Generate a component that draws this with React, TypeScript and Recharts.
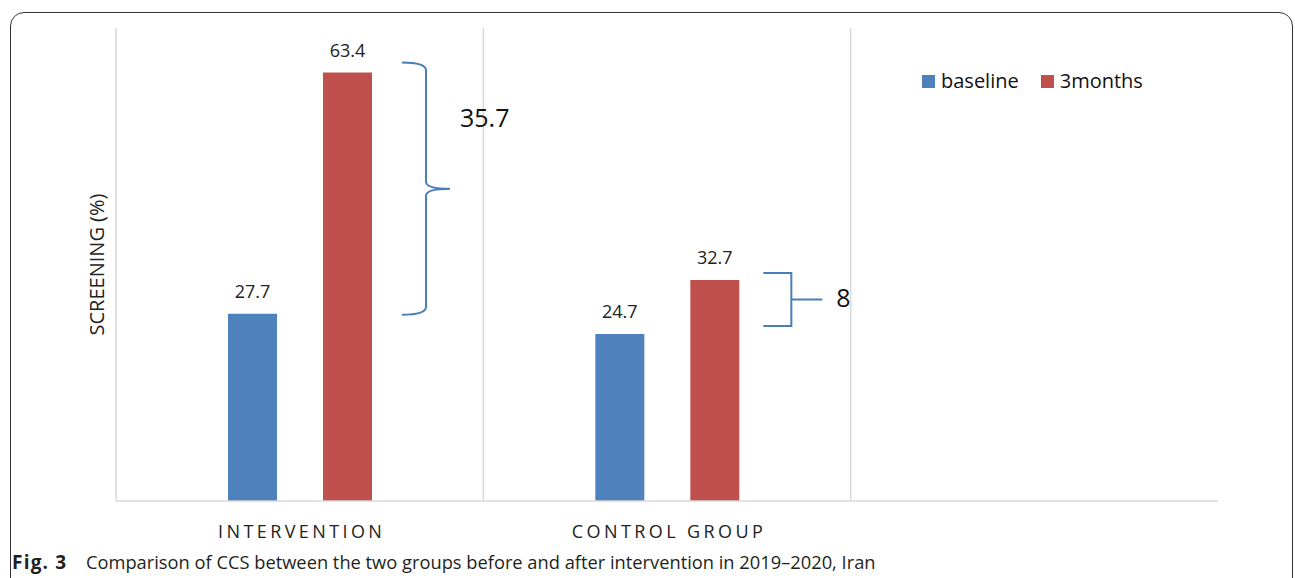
import React from 'react';
import { BarChart, Bar, XAxis, YAxis, CartesianGrid, LabelList } from 'recharts';

const categories = ['INTERVENTION', 'CONTROL GROUP', ''];
const baselineValues: (number | null)[] = [27.7, 24.7, null];
const threeMonthValues: (number | null)[] = [63.4, 32.7, null];
const differenceLabels = ['35.7', '8'];
const seriesNames = ['baseline', '3months'];
const seriesColors = ['#4f81bd', '#c0504d'];
const yAxisTitle = 'SCREENING (%)';
const captionBold = 'Fig. 3';
const captionText = 'Comparison of CCS between the two groups before and after intervention in 2019–2020, Iran';

const data = categories.map((name, i) => ({
  name,
  baseline: baselineValues[i],
  months3: threeMonthValues[i],
}));

const FONT = '"Open Sans", "Noto Sans", sans-serif';
const GRID = '#d9d9d9';
const BRACE = '#4a7ebb';

const renderTick = (props: any) => {
  const { x, y, payload } = props;
  return (
    <text
      x={x + 2}
      y={y + 29}
      textAnchor="middle"
      fontFamily={FONT}
      fontSize={18}
      letterSpacing={3.4}
      fill="#222"
    >
      {payload.value}
    </text>
  );
};

const renderValueLabel = (props: any) => {
  const { x, y, width, value } = props;
  if (value == null) return null;
  return (
    <text
      x={Number(x) + Number(width) / 2}
      y={Number(y) - 16}
      textAnchor="middle"
      fontFamily={FONT}
      fontSize={18}
      fill="#222"
    >
      {value}
    </text>
  );
};

const renderBrace = (props: any) => {
  const { x, y, width, height, index, value } = props;
  if (value == null) return null;
  const base = baselineValues[index];
  if (base == null) return null;
  const bx = Number(x);
  const by = Number(y);
  const bw = Number(width);
  const bh = Number(height);
  const bottomPx = by + bh;
  const basePx = bottomPx - (bh * base) / Number(value);
  const right = bx + bw;
  if (index === 0) {
    const sx = right + 30;
    const vx = sx + 24;
    const tx = sx + 48;
    const top = by - 10;
    const bot = basePx + 1;
    const mid = (top + bot) / 2;
    const d = `M${sx},${top} Q${vx},${top} ${vx},${top + 8} L${vx},${mid - 7} Q${vx},${mid} ${tx},${mid} Q${vx},${mid} ${vx},${mid + 7} L${vx},${bot - 8} Q${vx},${bot} ${sx},${bot}`;
    return (
      <g>
        <path d={d} fill="none" stroke={BRACE} strokeWidth={2} />
        <text x={tx + 10} y={top + 64} fontFamily={FONT} fontSize={25} fill="#111">
          {differenceLabels[index]}
        </text>
      </g>
    );
  }
  const sx = right + 24;
  const vx = sx + 28;
  const tx = sx + 59;
  const top = by - 7;
  const bot = basePx - 8;
  const mid = (top + bot) / 2;
  const d = `M${sx},${top} L${vx},${top} L${vx},${bot} L${sx},${bot} M${vx},${mid} L${tx},${mid}`;
  return (
    <g>
      <path d={d} fill="none" stroke={BRACE} strokeWidth={2} />
      <text x={tx + 14} y={mid + 7} fontFamily={FONT} fontSize={25} fill="#111">
        {differenceLabels[index]}
      </text>
    </g>
  );
};

export default function App() {
  return (
    <div
      style={{
        position: 'absolute',
        left: 0,
        top: 0,
        width: 1295,
        height: 578,
        overflow: 'hidden',
        background: '#fff',
      }}
    >
      <div
        style={{
          position: 'absolute',
          left: 10,
          top: 12,
          width: 1283,
          height: 640,
          border: '1.3px solid #333',
          borderRadius: 14,
          boxSizing: 'border-box',
        }}
      />
      <div style={{ position: 'absolute', left: 0, top: 0 }}>
        <BarChart
          width={1295}
          height={578}
          data={data}
          margin={{ top: 28, right: 77, bottom: 37, left: 78 }}
          barGap={46}
        >
          <CartesianGrid
            horizontal={false}
            vertical
            stroke={GRID}
            strokeWidth={1.5}
            verticalCoordinatesGenerator={({ offset }: any) => [
              offset.left + offset.width / 3,
              offset.left + (2 * offset.width) / 3,
            ]}
          />
          <XAxis
            dataKey="name"
            tickLine={false}
            axisLine={{ stroke: GRID, strokeWidth: 1.5 }}
            tick={renderTick}
            interval={0}
            height={40}
          />
          <YAxis
            domain={[0, 70]}
            tick={false}
            tickLine={false}
            axisLine={{ stroke: GRID, strokeWidth: 1.5 }}
            width={38}
            label={{
              value: yAxisTitle,
              angle: -90,
              position: 'center',
              fontFamily: FONT,
              fontSize: 20,
              fill: '#222',
            }}
          />
          <Bar dataKey="baseline" name={seriesNames[0]} fill={seriesColors[0]} barSize={49} isAnimationActive={false}>
            <LabelList dataKey="baseline" content={renderValueLabel} />
          </Bar>
          <Bar dataKey="months3" name={seriesNames[1]} fill={seriesColors[1]} barSize={49} isAnimationActive={false}>
            <LabelList dataKey="months3" content={renderValueLabel} />
            <LabelList dataKey="months3" content={renderBrace} />
          </Bar>
        </BarChart>
      </div>
      <div
        style={{
          position: 'absolute',
          left: 922,
          top: 68,
          display: 'flex',
          alignItems: 'center',
          fontFamily: FONT,
          fontSize: 20,
          color: '#111',
          lineHeight: '26px',
        }}
      >
        {seriesNames.map((n, i) => (
          <div key={n} style={{ display: 'flex', alignItems: 'center', marginRight: 22 }}>
            <span style={{ display: 'inline-block', width: 13, height: 13, background: seriesColors[i], marginRight: 6 }} />
            <span>{n}</span>
          </div>
        ))}
      </div>
      <div
        style={{
          position: 'absolute',
          left: 12,
          top: 549,
          fontFamily: FONT,
          fontSize: 19,
          fontWeight: 700,
          letterSpacing: 1.2,
          lineHeight: '26px',
          color: '#231f20',
          whiteSpace: 'nowrap',
        }}
      >
        {captionBold}
      </div>
      <div
        style={{
          position: 'absolute',
          left: 86,
          top: 550,
          fontFamily: FONT,
          fontSize: 18.3,
          lineHeight: '24px',
          color: '#231f20',
          whiteSpace: 'nowrap',
        }}
      >
        {captionText}
      </div>
    </div>
  );
}
